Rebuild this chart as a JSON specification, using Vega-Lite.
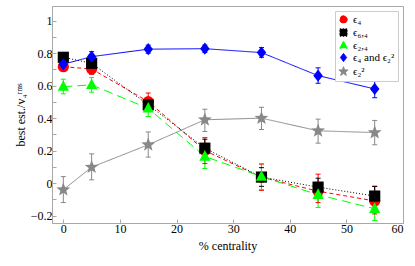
{
  "$schema": "https://vega.github.io/schema/vega-lite/v6.json",
  "width": 351,
  "height": 217,
  "autosize": {"type": "none"},
  "padding": {"left": 52, "top": 6, "right": 12, "bottom": 43},
  "config": {
    "view": {"stroke": "#a8a8a8", "strokeWidth": 1},
    "font": "Liberation Serif",
    "axis": {
      "domainColor": "#a8a8a8",
      "tickColor": "#a8a8a8",
      "labelColor": "#000000",
      "titleColor": "#000000",
      "labelFont": "Liberation Serif",
      "titleFont": "Liberation Serif",
      "labelFontSize": 12,
      "titleFontSize": 12,
      "titleFontWeight": "normal",
      "labelOverlap": false,
      "grid": false,
      "tickSize": -4
    },
    "legend": {
      "labelFont": "Liberation Serif",
      "labelFontSize": 11,
      "symbolSize": 55,
      "rowPadding": 0,
      "padding": 3,
      "labelOffset": 4,
      "fillColor": "#ffffff",
      "strokeColor": "#cccccc",
      "offset": 5
    }
  },
  "data": {
    "values": [
      {"s": "ϵ₄", "x": 0, "y": 0.717, "lo": 0.69, "hi": 0.745},
      {"s": "ϵ₄", "x": 5, "y": 0.703, "lo": 0.67, "hi": 0.735},
      {"s": "ϵ₄", "x": 15, "y": 0.502, "lo": 0.45, "hi": 0.555},
      {"s": "ϵ₄", "x": 25, "y": 0.2, "lo": 0.12, "hi": 0.28},
      {"s": "ϵ₄", "x": 35, "y": 0.036, "lo": -0.045, "hi": 0.117},
      {"s": "ϵ₄", "x": 45, "y": -0.05, "lo": -0.12, "hi": 0.055},
      {"s": "ϵ₄", "x": 55, "y": -0.11, "lo": -0.19, "hi": -0.02},
      {"s": "ϵ₆,₄", "x": 0, "y": 0.775, "lo": 0.755, "hi": 0.795},
      {"s": "ϵ₆,₄", "x": 5, "y": 0.738, "lo": 0.71, "hi": 0.765},
      {"s": "ϵ₆,₄", "x": 15, "y": 0.482, "lo": 0.45, "hi": 0.515},
      {"s": "ϵ₆,₄", "x": 25, "y": 0.215, "lo": 0.16, "hi": 0.27},
      {"s": "ϵ₆,₄", "x": 35, "y": 0.037, "lo": -0.02, "hi": 0.095},
      {"s": "ϵ₆,₄", "x": 45, "y": -0.025, "lo": -0.08, "hi": 0.03},
      {"s": "ϵ₆,₄", "x": 55, "y": -0.08, "lo": -0.14, "hi": -0.02},
      {"s": "ϵ₂,₄", "x": 0, "y": 0.594, "lo": 0.55, "hi": 0.64},
      {"s": "ϵ₂,₄", "x": 5, "y": 0.605, "lo": 0.56, "hi": 0.65},
      {"s": "ϵ₂,₄", "x": 15, "y": 0.46, "lo": 0.41, "hi": 0.51},
      {"s": "ϵ₂,₄", "x": 25, "y": 0.164, "lo": 0.09, "hi": 0.24},
      {"s": "ϵ₂,₄", "x": 35, "y": 0.04, "lo": -0.04, "hi": 0.12},
      {"s": "ϵ₂,₄", "x": 45, "y": -0.072, "lo": -0.15, "hi": 0.005},
      {"s": "ϵ₂,₄", "x": 55, "y": -0.158, "lo": -0.23, "hi": -0.09},
      {"s": "ϵ₄ and ϵ₂²", "x": 0, "y": 0.732, "lo": 0.7, "hi": 0.765},
      {"s": "ϵ₄ and ϵ₂²", "x": 5, "y": 0.779, "lo": 0.75, "hi": 0.81},
      {"s": "ϵ₄ and ϵ₂²", "x": 15, "y": 0.825, "lo": 0.8, "hi": 0.85},
      {"s": "ϵ₄ and ϵ₂²", "x": 25, "y": 0.828, "lo": 0.805, "hi": 0.85},
      {"s": "ϵ₄ and ϵ₂²", "x": 35, "y": 0.804, "lo": 0.775, "hi": 0.835},
      {"s": "ϵ₄ and ϵ₂²", "x": 45, "y": 0.662, "lo": 0.615, "hi": 0.71},
      {"s": "ϵ₄ and ϵ₂²", "x": 55, "y": 0.58, "lo": 0.526, "hi": 0.63},
      {"s": "ϵ₂²", "x": 0, "y": -0.041, "lo": -0.12, "hi": 0.04},
      {"s": "ϵ₂²", "x": 5, "y": 0.098, "lo": 0.02, "hi": 0.18},
      {"s": "ϵ₂²", "x": 15, "y": 0.236, "lo": 0.16, "hi": 0.315},
      {"s": "ϵ₂²", "x": 25, "y": 0.39, "lo": 0.318, "hi": 0.455},
      {"s": "ϵ₂²", "x": 35, "y": 0.4, "lo": 0.33, "hi": 0.467},
      {"s": "ϵ₂²", "x": 45, "y": 0.322, "lo": 0.246, "hi": 0.394},
      {"s": "ϵ₂²", "x": 55, "y": 0.311, "lo": 0.236, "hi": 0.386}
    ]
  },
  "encoding": {
    "x": {
      "field": "x", "type": "quantitative",
      "scale": {"domain": [-2, 60], "nice": false, "zero": false},
      "axis": {"values": [0, 10, 20, 30, 40, 50, 60], "title": "% centrality", "labelPadding": 4, "titlePadding": 6, "labelOverlap": false}
    },
    "y": {
      "field": "y", "type": "quantitative",
      "scale": {"domain": [-0.246, 1.091], "nice": false, "zero": false},
      "axis": {
        "values": [-0.2, -0.1, 0, 0.1, 0.2, 0.3, 0.4, 0.5, 0.6, 0.7, 0.8, 0.9, 1.0],
        "labelExpr": "abs(round(datum.value*10)) % 2 == 1 ? '' : round(datum.value*10) == 0 ? '0' : round(datum.value*10) == 10 ? '1' : format(datum.value, '.1f')",
        "labelOverlap": false,
        "labelSeparation": 0,
        "title": "best est./v₄ʳᵐˢ",
        "labelPadding": 4,
        "titlePadding": 3
      }
    },
    "color": {
      "field": "s", "type": "nominal",
      "scale": {"domain": ["ϵ₄", "ϵ₆,₄", "ϵ₂,₄", "ϵ₄ and ϵ₂²", "ϵ₂²"], "range": ["#ff0000", "#000000", "#00ff00", "#0000ff", "#888888"]},
      "legend": {"title": null, "orient": "top-right", "offset": 5, "symbolSize": 55, "rowPadding": 0, "padding": 3, "labelFontSize": 11}
    }
  },
  "layer": [
    {
      "mark": {"type": "line"},
      "encoding": {
        "strokeDash": {"field": "s", "type": "nominal", "scale": {"domain": ["ϵ₄", "ϵ₆,₄", "ϵ₂,₄", "ϵ₄ and ϵ₂²", "ϵ₂²"], "range": [[4, 3], [1, 2], [9, 5], [1, 0], [1, 0]]}, "legend": null},
        "strokeWidth": {"field": "s", "type": "ordinal", "scale": {"domain": ["ϵ₄", "ϵ₆,₄", "ϵ₂,₄", "ϵ₄ and ϵ₂²", "ϵ₂²"], "range": [1, 1, 1, 2, 1]}, "legend": null}
      }
    },
    {
      "mark": {"type": "rule", "strokeWidth": 1},
      "encoding": {
        "y": {"field": "lo", "type": "quantitative"},
        "y2": {"field": "hi"}
      }
    },
    {
      "mark": {"type": "tick", "orient": "horizontal", "size": 5, "thickness": 1, "opacity": 1},
      "encoding": {
        "y": {"field": "lo", "type": "quantitative"}
      }
    },
    {
      "mark": {"type": "tick", "orient": "horizontal", "size": 5, "thickness": 1, "opacity": 1},
      "encoding": {
        "y": {"field": "hi", "type": "quantitative"}
      }
    },
    {
      "mark": {"type": "point", "filled": true, "opacity": 1, "size": 125},
      "encoding": {
        "shape": {
          "field": "s", "type": "nominal",
          "scale": {"domain": ["ϵ₄", "ϵ₆,₄", "ϵ₂,₄", "ϵ₄ and ϵ₂²", "ϵ₂²"], "range": ["circle", "square", "M0,-1.15L1,0.75L-1,0.75Z", "M0,-1.1L0.85,0L0,1.1L-0.85,0Z", "M0,-1.3L0.32,-0.44L1.24,-0.4L0.52,0.17L0.76,1.05L0,0.55L-0.76,1.05L-0.52,0.17L-1.24,-0.4L-0.32,-0.44Z"]},
          "legend": {"title": null, "orient": "top-right", "offset": 5, "symbolSize": 55, "rowPadding": 0, "padding": 3, "labelFontSize": 11}
        }
      }
    }
  ]
}
